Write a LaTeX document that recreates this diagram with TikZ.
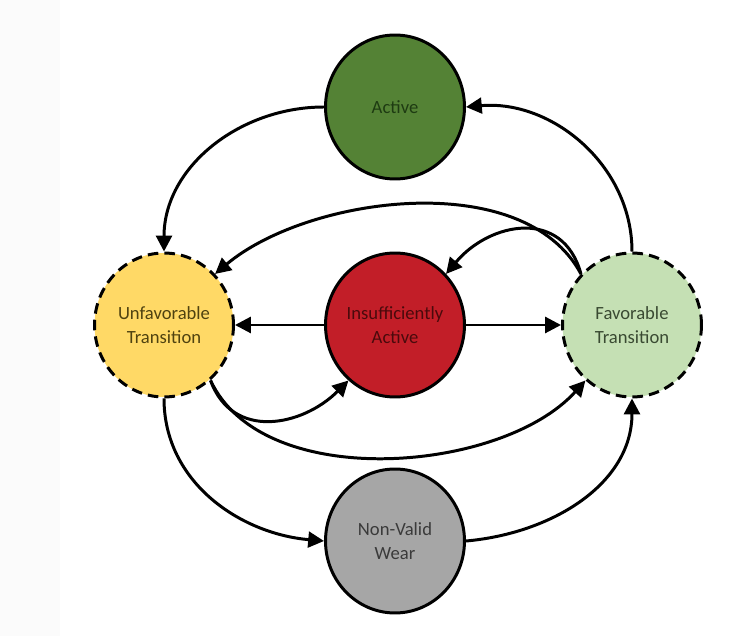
\documentclass[tikz,border=0pt]{standalone}
\usepackage{fontspec}
\setmainfont{Carlito}
\usetikzlibrary{arrows.meta,shapes.geometric}

\definecolor{leftbg}{HTML}{FBFBFB}
\definecolor{actfill}{HTML}{548235}
\definecolor{acttext}{HTML}{1E3B12}
\definecolor{unffill}{HTML}{FFD966}
\definecolor{unftext}{HTML}{4F4210}
\definecolor{insfill}{HTML}{C21E28}
\definecolor{instext}{HTML}{4A0A0C}
\definecolor{favfill}{HTML}{C5E0B4}
\definecolor{favtext}{HTML}{3A4A32}
\definecolor{nvwfill}{HTML}{A6A6A6}
\definecolor{nvwtext}{HTML}{3A3A3A}

\begin{document}
\begin{tikzpicture}[x=0.02cm, y=0.02cm, line width=1.7pt,
        state/.style={ellipse, draw, minimum width=2.78cm, minimum height=2.88cm,
                inner sep=0pt, align=center, font=\fontsize{10.6}{13.6}\selectfont},
        trans/.style={state, dash pattern=on 6pt off 3.5pt},
        >={Triangle[length=9pt,width=9pt]}]
        \useasboundingbox (0,0) rectangle (745,636);
        \fill[leftbg] (0,0) rectangle (60,636);

        \node[state, fill=actfill, text=acttext] (act) at (395,529) {Active};
        \node[trans, fill=unffill, text=unftext] (unf) at (164,311) {Unfavorable\\Transition};
        \node[state, fill=insfill, text=instext] (ins) at (395,311) {Insufficiently\\Active};
        \node[trans, fill=favfill, text=favtext] (fav) at (632,311) {Favorable\\Transition};
        \node[state, fill=nvwfill, text=nvwtext] (nvw) at (395,95) {Non-Valid\\Wear};

        \draw[->] (act.west) to[out=180, in=90] (unf.north);
        \draw[->] (fav.north) to[out=90, in=5] (act.east);
        \draw[->] (fav.135) to[out=118, in=40, looseness=0.85] (unf.45);
        \draw[->] (fav.135) to[out=105, in=50, looseness=1.3] (ins.45);
        \draw[->] (ins.west) -- (unf.east);
        \draw[->] (ins.east) -- (fav.west);
        \draw[->] (unf.-50) to[out=-70, in=-135, looseness=1.2] (ins.-130);
        \draw[->] (unf.-50) to[out=-65, in=-132, looseness=0.85] (fav.-130);
        \draw[->] (unf.south) to[out=-90, in=175] (nvw.west);
        \draw[->] (nvw.east) to[out=5, in=-90] (fav.south);
\end{tikzpicture}
\end{document}
